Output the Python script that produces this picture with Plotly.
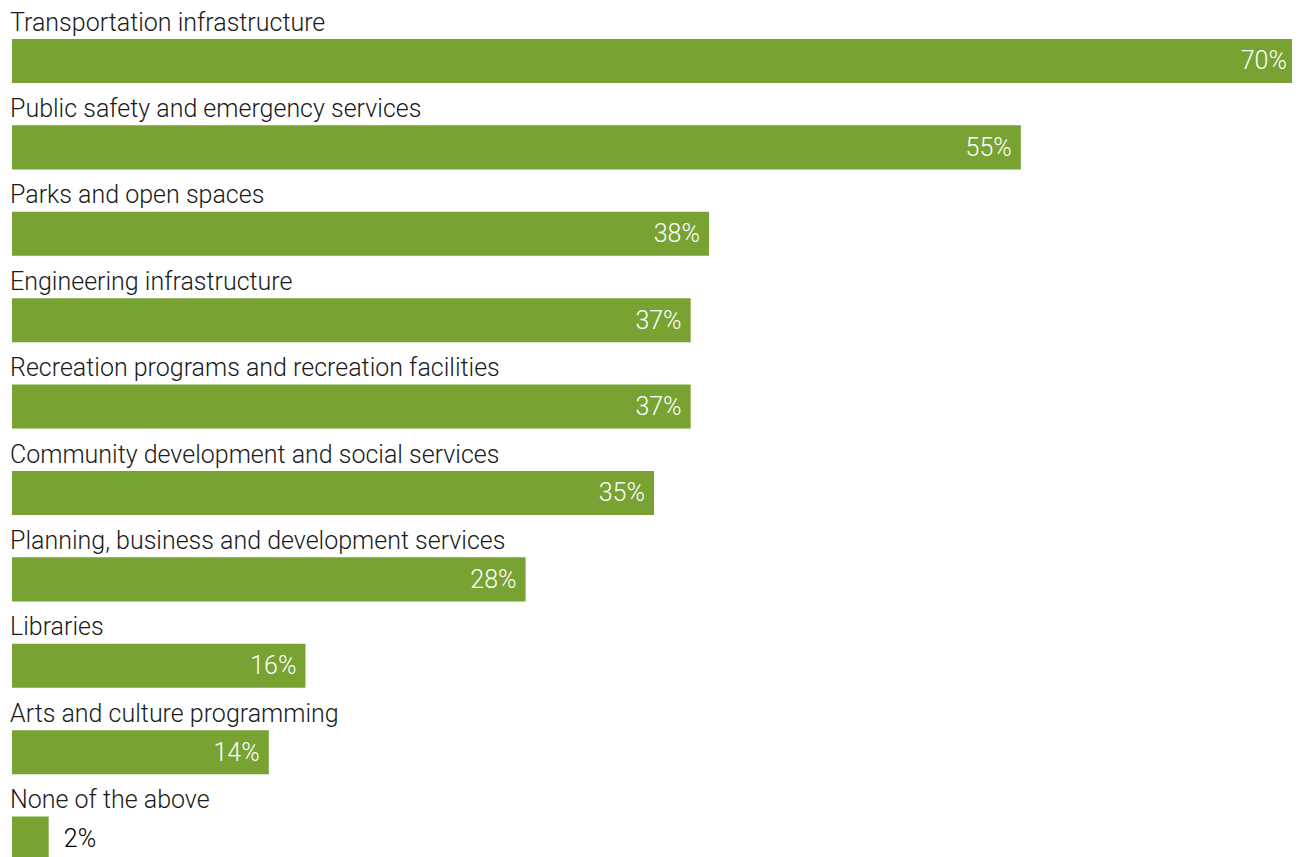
import plotly.graph_objects as go

categories = [
    "Transportation infrastructure",
    "Public safety and emergency services",
    "Parks and open spaces",
    "Engineering infrastructure",
    "Recreation programs and recreation facilities",
    "Community development and social services",
    "Planning, business and development services",
    "Libraries",
    "Arts and culture programming",
    "None of the above",
]
values = [70, 55, 38, 37, 37, 35, 28, 16, 14, 2]

BAR = "#78A232"
FONT = "Roboto"
FS = 25

n = len(categories)
positions = list(range(n))
textpos = ["inside" if v >= 5 else "outside" for v in values]
value_labels = [
    (f"{v}%\u00a0" if p == "inside" else f"\u00a0\u00a0{v}%")
    for v, p in zip(values, textpos)
]

fig = go.Figure(go.Bar(
    x=values,
    y=positions,
    orientation="h",
    marker=dict(color=BAR, line=dict(width=0)),
    width=0.51,
    text=value_labels,
    textposition=textpos,
    insidetextanchor="end",
    insidetextfont=dict(color="white", size=FS, family=FONT, weight=300),
    outsidetextfont=dict(color="black", size=FS, family=FONT, weight=300),
    textangle=0,
    cliponaxis=False,
    hoverinfo="skip",
))

for i, c in enumerate(categories):
    fig.add_annotation(
        x=0, y=i - 0.45, xref="x", yref="y",
        text=c, showarrow=False,
        xanchor="left", yanchor="middle",
        xshift=-4,
        font=dict(size=FS, color="#1a1a1a", family=FONT, weight=300),
    )

fig.update_layout(
    width=1292, height=849,
    margin=dict(l=4, r=4, t=0, b=0),
    paper_bgcolor="white", plot_bgcolor="white",
    showlegend=False,
    xaxis=dict(range=[0, 70], visible=False, fixedrange=True),
    yaxis=dict(range=[9.213, -0.613], visible=False, fixedrange=True),
)

fig.write_html("out.html")
